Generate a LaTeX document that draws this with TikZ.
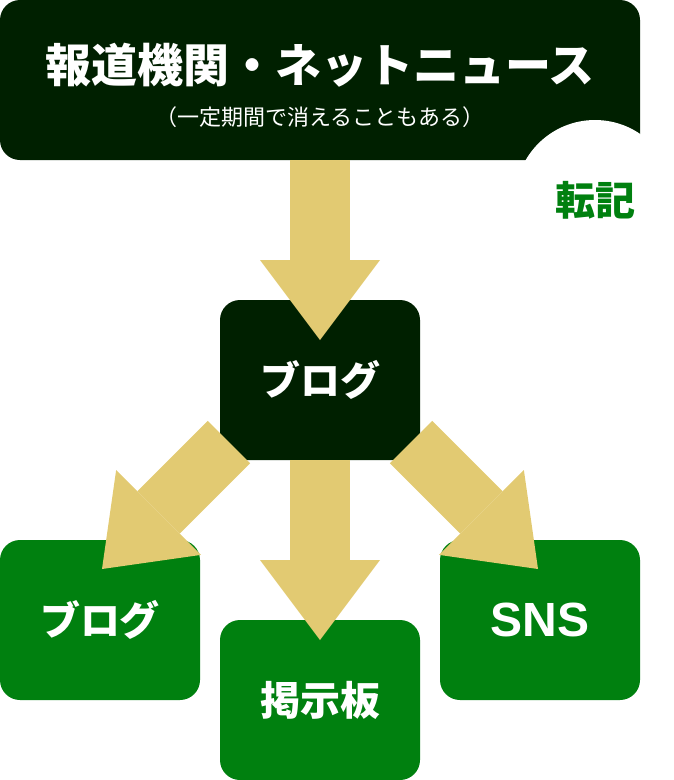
\documentclass[tikz,border=0pt]{standalone}
\usepackage{fontspec}
\setmainfont{Noto Sans CJK JP}
\newfontfamily\snsfont{Liberation Sans}
\usepackage{xcolor}
\usetikzlibrary{arrows.meta, positioning}

\definecolor{newsdark}{HTML}{002000}
\definecolor{sitegreen}{HTML}{00800F}
\definecolor{arrowgold}{HTML}{E2CA72}

\begin{document}
\begin{tikzpicture}[x=1pt, y=1pt,
    darkbox/.style={rectangle, fill=newsdark, text=white, rounded corners=20pt, minimum width=200pt, minimum height=160pt, inner sep=0pt, outer sep=0pt, font=\fontsize{40}{48}\selectfont\bfseries},
    greenbox/.style={darkbox, fill=sitegreen},
    line/.style={draw=arrowgold, line width=60pt, -{Triangle[length=80pt, width=120pt, line width=0pt]}}]

    \useasboundingbox (0,0) rectangle (674,-780);

    \node [darkbox, minimum width=640pt, anchor=north west] (news) at (0,0) {};
    \node [text=white, font=\fontsize{46}{55}\selectfont\bfseries] (newstitle) at (320,-65) {報道機関・ネットニュース};
    \node [text=white, font=\fontsize{22}{26}\selectfont] (newsnote) at (320,-117) {（一定期間で消えることもある）};
    \node [circle, fill=white, minimum size=160pt, inner sep=0pt, text=sitegreen, font=\fontsize{40}{48}\selectfont\bfseries] (tenki) at (595,-200) {転記};

    \node [darkbox, below=140pt of news] (blog) {ブログ};
    \node [greenbox, below left=80pt and 20pt of blog] (leftblog) {ブログ};
    \node [greenbox, below=160pt of blog] (board) {掲示板};
    \node [greenbox, below right=80pt and 20pt of blog, font=\fontsize{48}{56}\snsfont\bfseries] (sns) {SNS};

    \coordinate (blogtip) at (320,-340);
    \coordinate (boardtip) at (320,-640);
    \coordinate (lefttail) at (229,-442);
    \coordinate (lefttip) at (102,-569);
    \coordinate (righttail) at (411,-442);
    \coordinate (righttip) at (538,-569);

    \path [line] (news) -- (blogtip);
    \path [line] (blog) -- (boardtip);
    \path [line] (lefttail) -- (lefttip);
    \path [line] (righttail) -- (righttip);
\end{tikzpicture}
\end{document}
